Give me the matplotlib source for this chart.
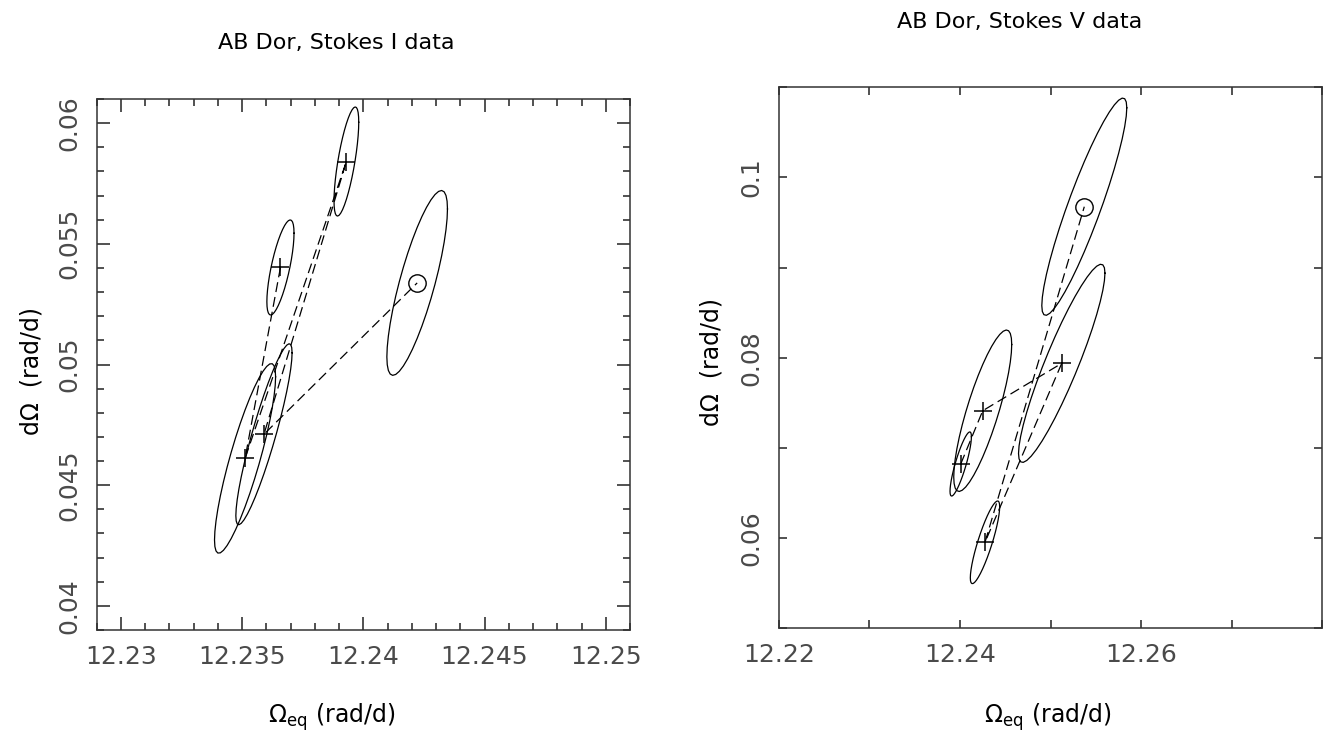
import numpy as np
import matplotlib
matplotlib.use("Agg")
import matplotlib.pyplot as plt
from matplotlib.ticker import MultipleLocator, FuncFormatter

# Stokes I solutions, listed in the order the dashed path joins them (last = circle)
i_omega = [12.23658, 12.23512, 12.23930, 12.23590, 12.24222]
i_domega = [0.05402, 0.04611, 0.05841, 0.04711, 0.05338]
i_sig_omega = [0.00056, 0.00126, 0.00051, 0.00116, 0.00125]
i_sig_domega = [0.00197, 0.00393, 0.00226, 0.00375, 0.00383]
i_corr = [0.72, 0.86, 0.72, 0.90, 0.80]

# Stokes V solutions, same convention
v_omega = [12.24009, 12.24252, 12.25124, 12.24277, 12.25373]
v_domega = [0.06820, 0.07411, 0.07937, 0.05951, 0.09675]
v_sig_omega = [0.00118, 0.00320, 0.00477, 0.00162, 0.00469]
v_sig_domega = [0.00356, 0.00896, 0.01100, 0.00459, 0.01206]
v_corr = [0.85, 0.82, 0.91, 0.86, 0.91]

plt.rcParams["font.family"] = ["DejaVu Sans"]
plt.rcParams["mathtext.fontset"] = "dejavusans"

W, H = 1323, 734
fig = plt.figure(figsize=(W / 100, H / 100), dpi=100)


def make_trim(hide_above):
    # PGPLOT style labels: no trailing zeros, nothing at the far right edge
    def trim(v, pos):
        if v > hide_above:
            return ""
        return f"{v:.3f}".rstrip("0")
    return FuncFormatter(trim)


def error_ellipse(cx, cy, sx, sy, r, n=41):
    t = np.linspace(0, 2 * np.pi, n)
    x = cx + sx * np.cos(t)
    y = cy + sy * (r * np.cos(t) + np.sqrt(1 - r * r) * np.sin(t))
    return x, y


def panel(rect, om, dom, som, sdom, corr, xlim, ylim, xstep, ystep, majlen, minlen):
    ax = fig.add_axes(rect)
    for cx, cy, sx, sy, r in zip(om, dom, som, sdom, corr):
        ex, ey = error_ellipse(cx, cy, sx, sy, r)
        ax.plot(ex, ey, color="black", lw=0.9)
    ax.plot(om, dom, color="black", lw=0.9, dashes=(8, 4))
    ax.plot(om[:-1], dom[:-1], "+", color="black", ms=12.5, mew=1.1)
    ax.plot(om[-1], dom[-1], "o", mfc="none", mec="black", ms=12.5, mew=1.0)
    ax.set_xlim(*xlim)
    ax.set_ylim(*ylim)
    ax.xaxis.set_major_locator(MultipleLocator(xstep[0]))
    ax.xaxis.set_minor_locator(MultipleLocator(xstep[1]))
    ax.yaxis.set_major_locator(MultipleLocator(ystep[0]))
    ax.yaxis.set_minor_locator(MultipleLocator(ystep[1]))
    ax.xaxis.set_major_formatter(make_trim(xlim[1] - xstep[1] / 2))
    ax.yaxis.set_major_formatter(make_trim(ylim[1] - ystep[1] / 2))
    ax.tick_params(which="both", direction="in", top=True, right=True,
                   width=1.1, color="#222222")
    ax.tick_params(which="major", length=majlen, labelsize=18,
                   labelcolor="#4a4a4a", pad=11)
    ax.tick_params(which="minor", length=minlen)
    ax.tick_params(axis="y", labelrotation=90)
    for lab in ax.get_yticklabels():
        lab.set_va("center")
    for s in ax.spines.values():
        s.set_linewidth(1.1)
        s.set_color("#333333")
    return ax


panel([96.7 / W, 1 - 630 / H, 533.3 / W, 531 / H],
      i_omega, i_domega, i_sig_omega, i_sig_domega, i_corr,
      (12.229, 12.251), (0.039, 0.061), (0.005, 0.001), (0.005, 0.001), 9.4, 5.0)

panel([778.7 / W, 1 - 628 / H, 543.6 / W, 540.7 / H],
      v_omega, v_domega, v_sig_omega, v_sig_domega, v_corr,
      (12.22, 12.28), (0.05, 0.11), (0.02, 0.01), (0.02, 0.01), 5.8, 5.8)

fig.text(336 / W, 1 - 43 / H, "AB Dor, Stokes I data", ha="center", va="center", fontsize=16)
fig.text(1020 / W, 1 - 22 / H, "AB Dor, Stokes V data", ha="center", va="center", fontsize=16)
xl = r"$\Omega_{\rm eq}$ (rad/d)"
fig.text(332 / W, 1 - 717 / H, xl, ha="center", va="center", fontsize=17)
fig.text(1048 / W, 1 - 717 / H, xl, ha="center", va="center", fontsize=17)
fig.text(32 / W, 1 - 371 / H, "d\u03a9  (rad/d)", ha="center", va="center",
         rotation=90, fontsize=17)
fig.text(711 / W, 1 - 362 / H, "d\u03a9  (rad/d)", ha="center", va="center",
         rotation=90, fontsize=17)

fig.savefig("out.png", dpi=100)
